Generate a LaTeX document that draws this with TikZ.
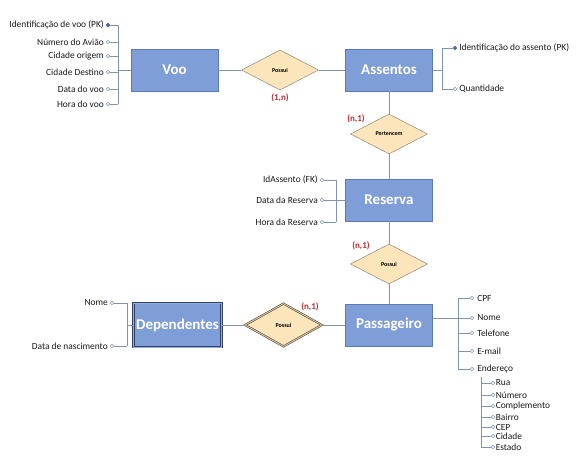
\documentclass[tikz,border=0pt]{standalone}
\usepackage{fontspec}
\setmainfont{Carlito}
\usetikzlibrary{shapes.geometric}

\definecolor{entblue}{HTML}{7F9DD6}
\definecolor{entedge}{HTML}{5A79B5}
\definecolor{relfill}{HTML}{FCE5BA}
\definecolor{reledge}{HTML}{7F7360}
\definecolor{linkgray}{HTML}{8094B0}
\definecolor{pkblue}{HTML}{4A6AB0}
\definecolor{cardred}{HTML}{C0282D}

\tikzset{
	entity/.style={draw=entedge, fill=entblue, minimum width=87pt, minimum height=42pt, inner sep=0pt, text=white, font=\bfseries\fontsize{15}{16}\selectfont},
	weakent/.style={draw=entedge!55!black, double=entblue!85!white, double distance=0.9pt, line width=0.6pt},
	rel/.style={diamond, draw=reledge, fill=relfill, minimum width=77pt, minimum height=40pt, inner sep=0pt, font=\bfseries\fontsize{6}{7}\selectfont},
	weakrel/.style={draw=reledge!70!black, double=relfill!70!reledge, double distance=0.9pt, line width=0.6pt},
	card/.style={text=cardred, font=\bfseries\fontsize{9}{10}\selectfont, inner sep=0pt},
	attr/.style={circle, draw=linkgray, fill=white, inner sep=0pt, minimum size=3.6pt, line width=0.5pt},
	pk/.style={attr, draw=pkblue, fill=pkblue},
	lbl/.style={font=\fontsize{9.4}{10}\selectfont, text=black!90, inner sep=1pt},
	link/.style={draw=linkgray, line width=0.6pt}
}

\begin{document}
\begin{tikzpicture}[x=1pt,y=-1pt]
	\useasboundingbox (0,0) rectangle (582,471);

	% entidades e relacionamentos
	\node[entity] (voo) at (174.5,70) {Voo};
	\node[entity] (assentos) at (389,70) {Assentos};
	\node[entity] (reserva) at (389,200) {Reserva};
	\node[entity] (passageiro) at (389,325) {Passageiro};
	\node[entity, weakent, minimum width=88pt, minimum height=44pt] (dependentes) at (177.5,325) {Dependentes};

	\node[rel] (possui1) at (280,70) {Possui};
	\node[rel] (pertencem) at (389,134) {Pertencem};
	\node[rel] (possui2) at (389,264) {Possui};
	\node[rel, weakrel, minimum height=43pt] (possui3) at (283.5,325) {Possui};

	\node[card] (card1) at (280,98) {(1,n)};
	\node[card] (card2) at (356,119) {(n,1)};
	\node[card] (card3) at (361,246) {(n,1)};
	\node[card] (card4) at (310,307) {(n,1)};

	\draw[link] (voo) -- (possui1);
	\draw[link] (possui1) -- (assentos);
	\draw[link] (assentos) -- (pertencem);
	\draw[link] (pertencem) -- (reserva);
	\draw[link] (reserva) -- (possui2);
	\draw[link] (possui2) -- (passageiro);
	\draw[link] (dependentes) -- (possui3);
	\draw[link] (possui3) -- (passageiro);

	% atributos de Voo
	\coordinate (vbar) at (118,25);
	\foreach \n/\t/\y in {1/{Identificação de voo (PK)}/25, 2/{Número do Avião}/42, 3/{Cidade origem}/56, 4/{Cidade Destino}/72, 5/{Data do voo}/89, 6/{Hora do voo}/104} {
		\node[attr] (va\n) at (108,\y) {};
		\node[lbl, anchor=east] (vt\n) at ([xshift=-1pt]va\n.west) {\t};
		\draw[link] (va\n) -- (vbar |- va\n);
	}
	\node[pk] at (va1) {};
	\draw[link] (vbar) -- (vbar |- va6);
	\draw[link] (voo.west) -- (vbar |- voo.west);

	% atributos de Assentos
	\coordinate (abar) at (442,48);
	\node[pk] (aa1) at (455,48) {};
	\node[attr] (aa2) at (455,89) {};
	\node[lbl, anchor=west] (at1) at ([xshift=1pt]aa1.east) {Identificação do assento (PK)};
	\node[lbl, anchor=west] (at2) at ([xshift=1pt]aa2.east) {Quantidade};
	\draw[link] (abar) -- (abar |- aa2);
	\draw[link] (aa1) -- (abar);
	\draw[link] (aa2) -- (abar |- aa2);
	\draw[link] (assentos.east) -- (abar |- assentos.east);

	% atributos de Reserva
	\coordinate (rbar) at (336,180);
	\foreach \n/\t/\y in {1/{IdAssento (FK)}/180, 2/{Data da Reserva}/200, 3/{Hora da Reserva}/222} {
		\node[attr] (ra\n) at (322,\y) {};
		\node[lbl, anchor=east] (rt\n) at ([xshift=-1pt]ra\n.west) {\t};
		\draw[link] (ra\n) -- (rbar |- ra\n);
	}
	\draw[link] (rbar) -- (rbar |- ra3);
	\draw[link] (reserva.west) -- (rbar |- reserva.west);

	% atributos de Dependentes
	\coordinate (dbar) at (127,303);
	\node[attr] (da1) at (112,303) {};
	\node[attr] (da2) at (112,346) {};
	\node[lbl, anchor=east] (dt1) at ([xshift=-1pt]da1.west) {Nome};
	\node[lbl, anchor=east] (dt2) at ([xshift=-1pt]da2.west) {Data de nascimento};
	\draw[link] (da1) -- (dbar);
	\draw[link] (da2) -- (dbar |- da2);
	\draw[link] (dbar) -- (dbar |- da2);
	\draw[link] (dependentes.west) -- (dbar |- dependentes.west);

	% atributos de Passageiro
	\coordinate (pbar) at (458,298);
	\foreach \n/\t/\y in {1/CPF/298, 2/Nome/318, 3/Telefone/333, 4/E-mail/351, 5/Endereço/369} {
		\node[attr] (pa\n) at (472,\y) {};
		\node[lbl, anchor=west] (pt\n) at ([xshift=2pt]pa\n.east) {\t};
		\draw[link] (pa\n) -- (pbar |- pa\n);
	}
	\draw[link] (pbar) -- (pbar |- pa5);
	\draw[link] (passageiro.east |- pa2) -- (pbar |- pa2);

	% Endereço
	\coordinate (ebar) at (481,377);
	\foreach \n/\t/\y in {1/Rua/383, 2/Número/395, 3/Complemento/406, 4/Bairro/417, 5/CEP/427, 6/Cidade/436, 7/Estado/447} {
		\node[attr] (ea\n) at (493,\y) {};
		\node[lbl, anchor=west, inner sep=0.5pt] (et\n) at (ea\n.east) {\t};
		\draw[link] (ea\n) -- (ebar |- ea\n);
	}
	\draw[link] (ebar) -- (ebar |- ea7);
\end{tikzpicture}
\end{document}
